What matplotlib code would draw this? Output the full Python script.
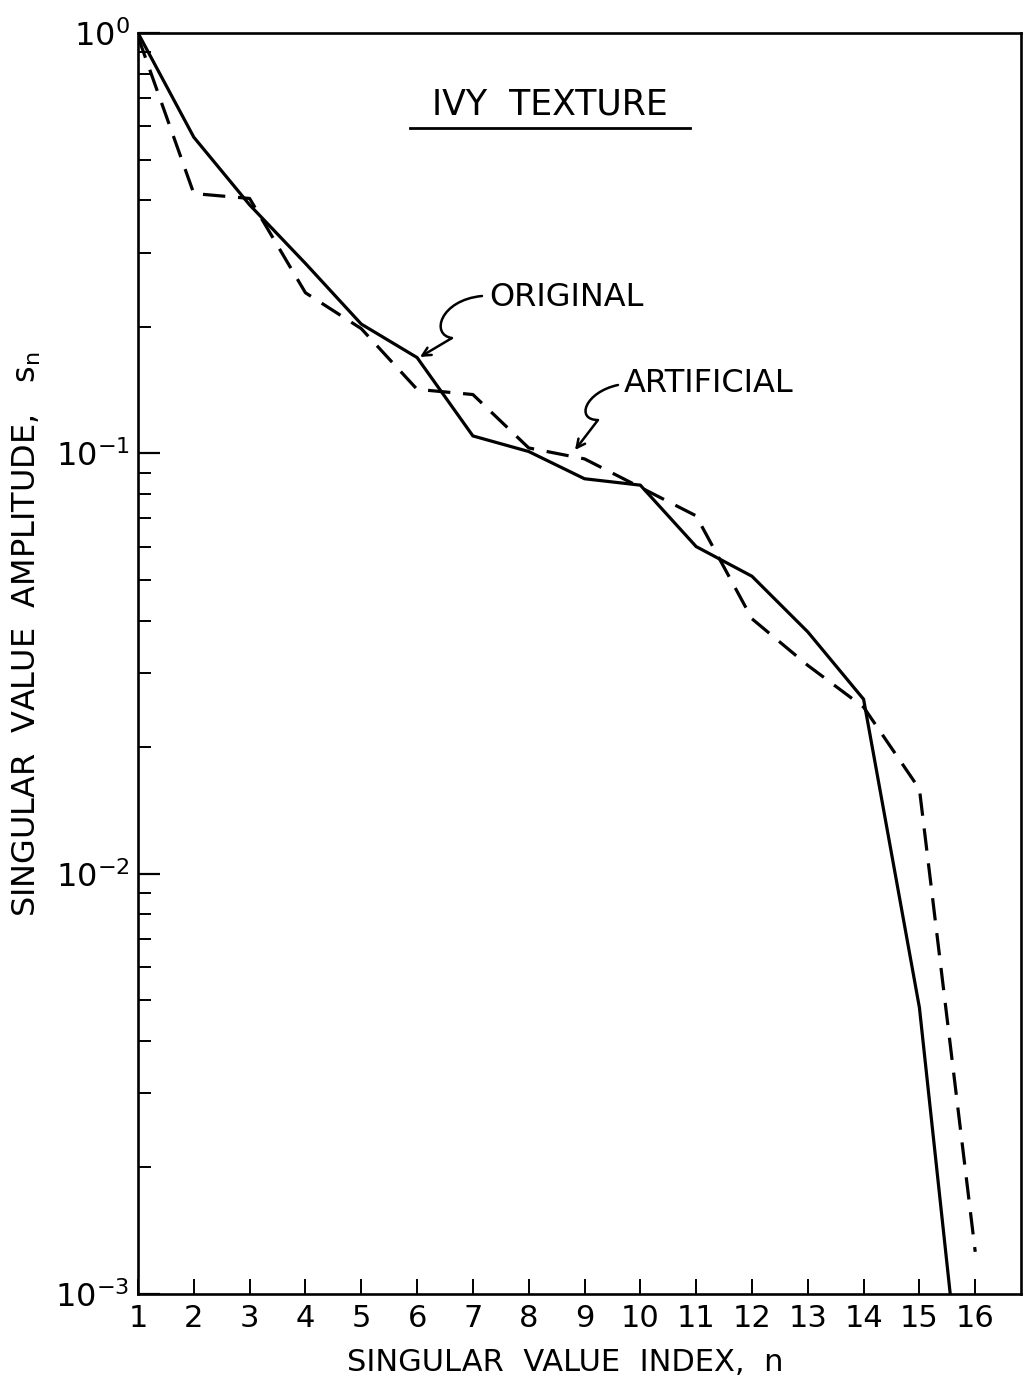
import matplotlib
matplotlib.use('Agg')
import matplotlib.pyplot as plt
from matplotlib.path import Path
from matplotlib.patches import FancyArrowPatch
from matplotlib.lines import Line2D
from matplotlib.ticker import LogLocator, NullFormatter, FixedLocator

# singular value index
n = [1, 2, 3, 4, 5, 6, 7, 8, 9, 10, 11, 12, 13, 14, 15, 16]

# amplitudes
original = [1.0, 0.565, 0.39, 0.283, 0.203, 0.169, 0.110, 0.101, 0.087, 0.084,
            0.060, 0.051, 0.0376, 0.026, 0.0048, 0.00028]
artificial = [0.98, 0.415, 0.404, 0.241, 0.198, 0.142, 0.138, 0.103, 0.097, 0.083,
              0.071, 0.0404, 0.0313, 0.0249, 0.0159, 0.00126]

ytick_vals = [1e0, 1e-1, 1e-2, 1e-3]
ytick_labels = [r'$10^{0}$', r'$10^{-1}$', r'$10^{-2}$', r'$10^{-3}$']

W, H = 1028, 1387
fig = plt.figure(figsize=(W / 100, H / 100), dpi=100)
ax = fig.add_axes([138 / W, 1 - 1294 / H, (1021 - 138) / W, (1294 - 33) / H])

ax.plot(n, original, color='black', lw=2.3, solid_joinstyle='miter')
ax.plot(n, artificial, color='black', lw=2.3, dashes=(7, 4))

ax.set_yscale('log')
ax.set_ylim(1e-3, 1)
ax.set_xlim(1, 16.82)

# ticks
ax.xaxis.set_major_locator(FixedLocator(n))
ax.set_xticklabels([str(v) for v in n])
ax.yaxis.set_major_locator(FixedLocator(ytick_vals))
ax.set_yticklabels(ytick_labels)
ax.yaxis.set_minor_locator(LogLocator(base=10, subs=range(2, 10)))
ax.yaxis.set_minor_formatter(NullFormatter())
ax.tick_params(axis='x', which='major', direction='in', length=11, width=1.4,
               labelsize=22, pad=7)
ax.tick_params(axis='y', which='major', direction='in', length=16, width=1.6,
               labelsize=23, pad=6)
ax.tick_params(axis='y', which='minor', direction='in', length=9, width=1.4)
for s in ax.spines.values():
    s.set_linewidth(1.9)

ax.set_xlabel('SINGULAR  VALUE  INDEX,  n', fontsize=22)
ax.xaxis.set_label_coords(0.484, -0.043)
ax.set_ylabel(r'SINGULAR  VALUE  AMPLITUDE,   $\mathregular{s_n}$', fontsize=23)
ax.yaxis.set_label_coords(-0.108, 0.523)

# title inside the box with underline
ax.text(0.467, 0.943, 'IVY  TEXTURE', transform=ax.transAxes, fontsize=25,
        ha='center', va='center')
fig.add_artist(Line2D([410 / W, 690 / W], [1 - 128 / H, 1 - 128 / H],
                      color='black', lw=2.0))

# curve labels
ax.text(0.398, 0.790, 'ORIGINAL', transform=ax.transAxes, fontsize=23,
        ha='left', va='center')
ax.text(0.550, 0.722, 'ARTIFICIAL', transform=ax.transAxes, fontsize=23,
        ha='left', va='center')


def squiggle(pts):
    verts = [(x / W, 1 - y / H) for x, y in pts]
    codes = [Path.MOVETO, Path.CURVE4, Path.CURVE4, Path.CURVE4, Path.LINETO]
    arr = FancyArrowPatch(path=Path(verts, codes), arrowstyle='->,head_length=6,head_width=3',
                          color='black', lw=1.8, transform=fig.transFigure)
    fig.add_artist(arr)


squiggle([(482, 296), (440, 300), (430, 335), (452, 338), (420, 357)])
squiggle([(618, 385), (585, 392), (575, 420), (598, 420), (575, 450)])

fig.savefig('out.png', dpi=100)
